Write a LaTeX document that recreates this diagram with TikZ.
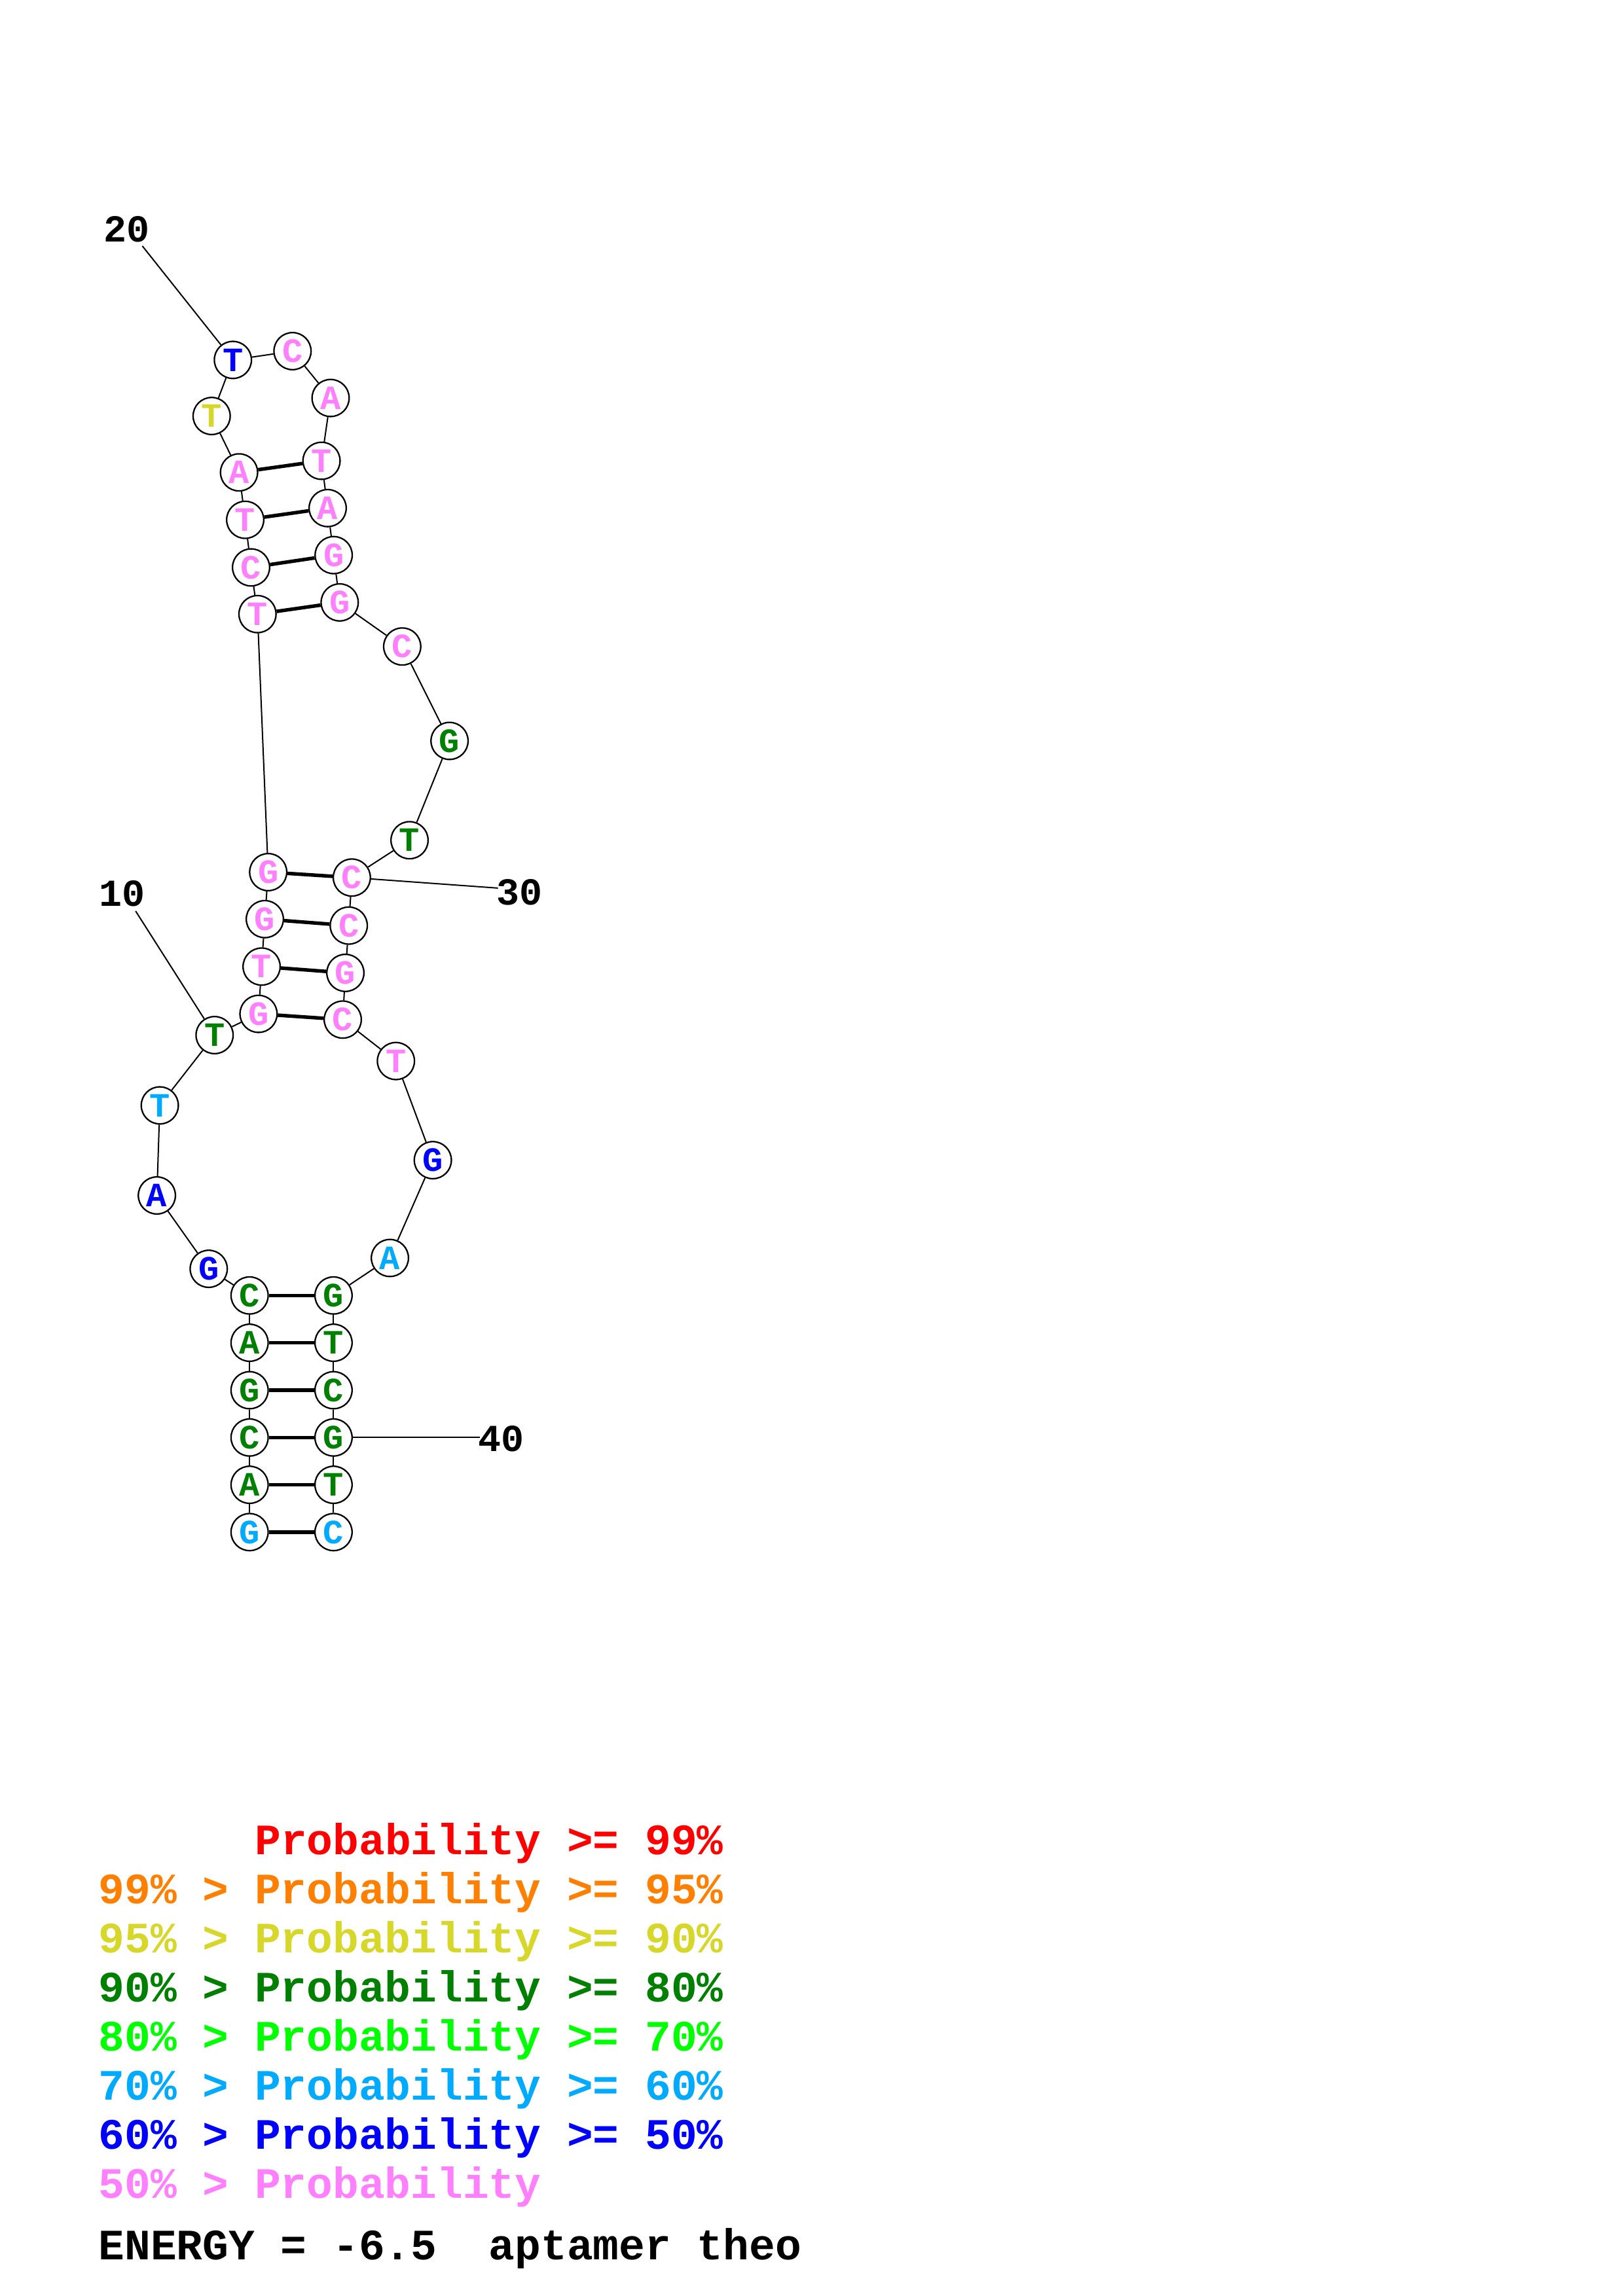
\documentclass[tikz,border=0pt]{standalone}
\usepackage{fontspec}
\setmainfont{Liberation Mono}
\newfontfamily\mono{Liberation Mono}
\definecolor{cpk}{RGB}{255,128,255}
\definecolor{cbl}{RGB}{0,0,255}
\definecolor{clb}{RGB}{0,170,255}
\definecolor{cdg}{RGB}{0,128,0}
\definecolor{cbg}{RGB}{0,255,0}
\definecolor{cye}{RGB}{215,215,42}
\definecolor{cor}{RGB}{255,128,0}
\definecolor{crd}{RGB}{255,0,0}
\tikzset{
  base/.style={circle, draw=black, line width=0.55pt, fill=white, minimum size=13.6pt,
    inner sep=0pt, font=\mono\bfseries\fontsize{12.5}{12.5}\selectfont},
  bb/.style={line width=0.48pt, black},
  pair/.style={line width=1.3pt, black},
  numlab/.style={inner sep=0pt, font=\mono\bfseries\fontsize{14}{14}\selectfont},
  leg/.style={anchor=base west, inner sep=0pt, font=\mono\bfseries\fontsize{15.9}{15.9}\selectfont}
}
\begin{document}
\begin{tikzpicture}[x=0.53696pt,y=-0.53696pt]
\useasboundingbox (0,0) rectangle (1108,1568);
\fill[white] (0,0) rectangle (1108,1568);
% nodes
\node[base,text=clb] (n1) at (170.4,1046.3) {G};
\node[base,text=cdg] (n2) at (170.4,1014.0) {A};
\node[base,text=cdg] (n3) at (170.4,981.7) {C};
\node[base,text=cdg] (n4) at (170.4,949.4) {G};
\node[base,text=cdg] (n5) at (170.4,917.0) {A};
\node[base,text=cdg] (n6) at (170.4,884.7) {C};
\node[base,text=cbl] (n7) at (142.5,866.5) {G};
\node[base,text=cbl] (n8) at (107.1,816.4) {A};
\node[base,text=clb] (n9) at (109.1,754.9) {T};
\node[base,text=cdg] (n10) at (146.5,706.9) {T};
\node[base,text=cpk] (n11) at (176.5,692.4) {G};
\node[base,text=cpk] (n12) at (178.6,660.1) {T};
\node[base,text=cpk] (n13) at (180.8,627.7) {G};
\node[base,text=cpk] (n14) at (183.1,595.6) {G};
\node[base,text=cpk] (n15) at (175.8,419.4) {T};
\node[base,text=cpk] (n16) at (171.4,387.5) {C};
\node[base,text=cpk] (n17) at (167.4,355.0) {T};
\node[base,text=cpk] (n18) at (163.2,322.6) {A};
\node[base,text=cye] (n19) at (144.5,284.1) {T};
\node[base,text=cbl] (n20) at (159.0,245.8) {T};
\node[base,text=cpk] (n21) at (199.7,239.8) {C};
\node[base,text=cpk] (n22) at (225.7,271.8) {A};
\node[base,text=cpk] (n23) at (219.5,314.7) {T};
\node[base,text=cpk] (n24) at (223.7,347.0) {A};
\node[base,text=cpk] (n25) at (227.8,379.1) {G};
\node[base,text=cpk] (n26) at (231.9,411.4) {G};
\node[base,text=cpk] (n27) at (274.6,441.5) {C};
\node[base,text=cdg] (n28) at (306.9,506.0) {G};
\node[base,text=cdg] (n29) at (279.6,573.8) {T};
\node[base,text=cpk] (n30) at (240.2,599.3) {C};
\node[base,text=cpk] (n31) at (238.1,632.1) {C};
\node[base,text=cpk] (n32) at (235.8,664.4) {G};
\node[base,text=cpk] (n33) at (234.0,696.3) {C};
\node[base,text=cpk] (n34) at (270.3,724.6) {T};
\node[base,text=cbl] (n35) at (295.5,792.3) {G};
\node[base,text=clb] (n36) at (266.2,859.1) {A};
\node[base,text=cdg] (n37) at (227.7,884.7) {G};
\node[base,text=cdg] (n38) at (227.7,917.0) {T};
\node[base,text=cdg] (n39) at (227.7,949.4) {C};
\node[base,text=cdg] (n40) at (227.7,981.7) {G};
\node[base,text=cdg] (n41) at (227.7,1014.0) {T};
\node[base,text=clb] (n42) at (227.7,1046.3) {C};
% backbone
\foreach \a/\b in {1/2,2/3,3/4,4/5,5/6,6/7,7/8,8/9,9/10,10/11,11/12,12/13,13/14,14/15,15/16,16/17,17/18,18/19,19/20,20/21,21/22,22/23,23/24,24/25,25/26,26/27,27/28,28/29,29/30,30/31,31/32,32/33,33/34,34/35,35/36,36/37,37/38,38/39,39/40,40/41,41/42}
  \draw[bb] (n\a) -- (n\b);
% pairs
\foreach \a/\b in {1/42,2/41,3/40,4/39,5/38,6/37,11/33,12/32,13/31,14/30,15/26,16/25,17/24,18/23}
  \draw[pair] (n\a) -- (n\b);
% number labels
\node[numlab] (l20) at (86.6,156.4) {20};
\node[numlab] (l10) at (83.4,610.2) {10};
\node[numlab] (l30) at (354.8,609.2) {30};
\node[numlab] (l40) at (342.0,982.7) {40};
\coordinate (t20) at (97.2,168.0);
\coordinate (t10) at (92.6,622.2);
\coordinate (t30) at (340.0,606.5);
\coordinate (t40) at (327.6,981.7);
\draw[bb] (t20) -- (n20);
\draw[bb] (t10) -- (n10);
\draw[bb] (n30) -- (t30);
\draw[bb] (n40) -- (t40);
% legend
\node[leg,text=crd] (g1) at (67,1266.5) {\phantom{99\% > }Probability >= 99\%};
\node[leg,text=cor] (g2) at (67,1300.0) {99\% > Probability >= 95\%};
\node[leg,text=cye] (g3) at (67,1333.5) {95\% > Probability >= 90\%};
\node[leg,text=cdg] (g4) at (67,1367.1) {90\% > Probability >= 80\%};
\node[leg,text=cbg] (g5) at (67,1400.6) {80\% > Probability >= 70\%};
\node[leg,text=clb] (g6) at (67,1434.1) {70\% > Probability >= 60\%};
\node[leg,text=cbl] (g7) at (67,1467.6) {60\% > Probability >= 50\%};
\node[leg,text=cpk] (g8) at (67,1501.1) {50\% > Probability};
\node[leg,text=black] (g9) at (67,1543.1) {ENERGY = -6.5\ \ aptamer theo};
\end{tikzpicture}
\end{document}
